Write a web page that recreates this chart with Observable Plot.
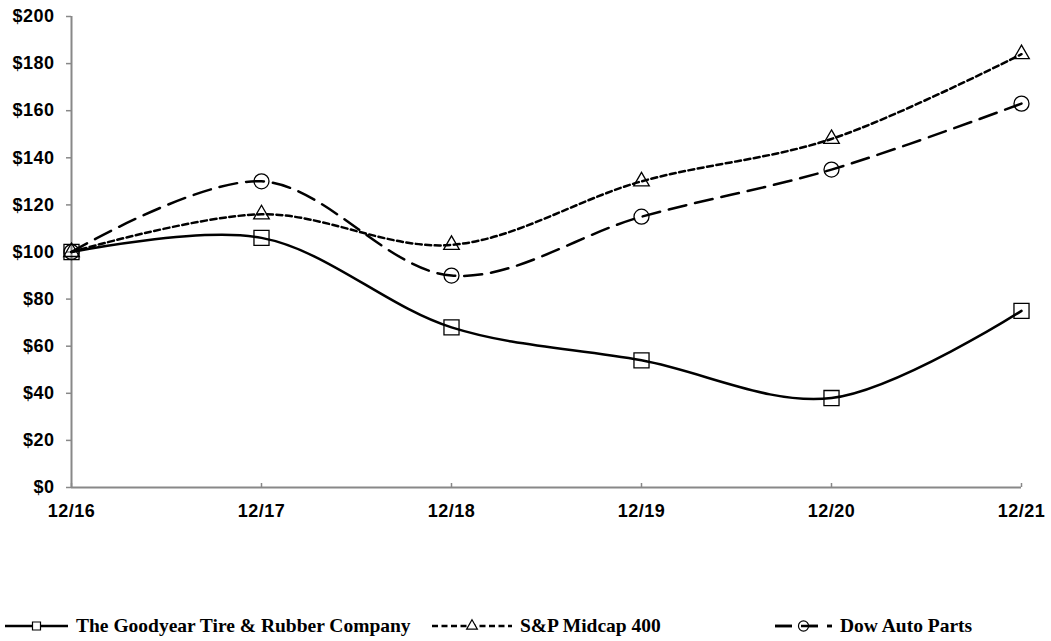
<!DOCTYPE html>
<html>
<head>
<meta charset="utf-8">
<script src="https://cdn.jsdelivr.net/npm/d3@7"></script>
<script src="https://cdn.jsdelivr.net/npm/@observablehq/plot@0.6"></script>
<style>
  body { margin: 0; background: #fff; }
  #wrap { position: relative; width: 1051px; height: 641px; }
  .leg { position: absolute; top: 612px; height: 28px; display: flex; align-items: center;
         font-family: "Liberation Serif", "Times New Roman", serif; font-weight: bold; font-size: 19.5px; color: #000; white-space: nowrap; }
  .leg svg { display: block; }
</style>
</head>
<body>
<div id="wrap"><div id="chart"></div></div>
<script>
const periods = ["12/16", "12/17", "12/18", "12/19", "12/20", "12/21"];
const goodyear = [100, 106, 68, 54, 38, 75];
const midcap = [100, 116, 103, 130, 148, 184];
const dowAuto = [100, 130, 90, 115, 135, 163];
const seriesNames = ["The Goodyear Tire & Rubber Company", "S&P Midcap 400", "Dow Auto Parts"];
const yTicks = [0, 20, 40, 60, 80, 100, 120, 140, 160, 180, 200];

const mk = (vals, name) => periods.map((p, i) => ({period: p, value: vals[i], series: name}));
const gy = mk(goodyear, seriesNames[0]);
const sp = mk(midcap, seriesNames[1]);
const da = mk(dowAuto, seriesNames[2]);

const chart = Plot.plot({
  width: 1051,
  height: 541,
  marginLeft: 71,
  marginRight: 30,
  marginTop: 16,
  marginBottom: 54,
  style: {fontFamily: "'Liberation Sans', Arial, sans-serif", fontWeight: "bold", fontSize: "18px", letterSpacing: "0.5px", color: "#000", background: "#fff"},
  x: {type: "point", domain: periods, padding: 0},
  y: {domain: [0, 200]},
  marks: [
    Plot.axisY({ticks: yTicks, tickFormat: d => "$" + d, tickSize: 5, tickPadding: 12, fontSize: 18, stroke: "#888", strokeWidth: 1.5, fill: "#000", label: null}),
    Plot.axisX({tickSize: 0, tickPadding: 17, fontSize: 18, fill: "#000", label: null}),
    Plot.ruleX([periods[0]], {y1: 0, y2: 200, stroke: "#888", strokeWidth: 2}),
    Plot.ruleY([0], {stroke: "#888", strokeWidth: 2}),
    Plot.ruleX(periods, {y1: 0, y2: 0, insetTop: -4, stroke: "#888", strokeWidth: 1.5}),
    Plot.line(gy, {x: "period", y: "value", curve: "catmull-rom", stroke: "#000", strokeWidth: 2.5}),
    Plot.line(sp, {x: "period", y: "value", curve: "catmull-rom", stroke: "#000", strokeWidth: 2.5, strokeDasharray: "6,3.5"}),
    Plot.line(da, {x: "period", y: "value", curve: "catmull-rom", stroke: "#000", strokeWidth: 2.5, strokeDasharray: "18,9"}),
    Plot.dot(gy, {x: "period", y: "value", symbol: "square", r: 8.5, fill: "none", stroke: "#000", strokeWidth: 1.3}),
    Plot.dot(sp, {x: "period", y: "value", symbol: "triangle", r: 5.8, fill: "none", stroke: "#000", strokeWidth: 1.3}),
    Plot.dot(da, {x: "period", y: "value", symbol: "circle", r: 7.5, fill: "none", stroke: "#000", strokeWidth: 1.3})
  ]
});
document.getElementById("chart").appendChild(chart);

// Legend
const wrap = document.getElementById("wrap");
const legendItems = [
  {name: seriesNames[0], left: 5, w: 63, dash: null, sym: "square"},
  {name: seriesNames[1], left: 432, w: 80, dash: "6,3.5", sym: "triangle"},
  {name: seriesNames[2], left: 775, w: 57, dash: "17,9", sym: "circle"}
];
legendItems.forEach(it => {
  const div = document.createElement("div");
  div.className = "leg";
  div.style.left = it.left + "px";
  const ns = "http://www.w3.org/2000/svg";
  const svg = document.createElementNS(ns, "svg");
  svg.setAttribute("width", it.w);
  svg.setAttribute("height", 20);
  const line = document.createElementNS(ns, "line");
  line.setAttribute("x1", 0); line.setAttribute("x2", it.w);
  line.setAttribute("y1", 10); line.setAttribute("y2", 10);
  line.setAttribute("stroke", "#000"); line.setAttribute("stroke-width", 2.5);
  if (it.dash) line.setAttribute("stroke-dasharray", it.dash);
  svg.appendChild(line);
  const path = document.createElementNS(ns, "path");
  const type = it.sym === "square" ? d3.symbolSquare : it.sym === "triangle" ? d3.symbolTriangle : d3.symbolCircle;
  const size = it.sym === "square" ? 64 : it.sym === "triangle" ? 50 : 80;
  path.setAttribute("d", d3.symbol(type, size)());
  path.setAttribute("transform", `translate(${it.w / 2},10)`);
  path.setAttribute("fill", "#fff"); path.setAttribute("stroke", "#000"); path.setAttribute("stroke-width", 1.2);
  svg.appendChild(path);
  if (it.sym === "circle") svg.appendChild(line.cloneNode());
  div.appendChild(svg);
  const span = document.createElement("span");
  span.textContent = it.name;
  span.style.marginLeft = "8px";
  div.appendChild(span);
  wrap.appendChild(div);
});
</script>
</body>
</html>
